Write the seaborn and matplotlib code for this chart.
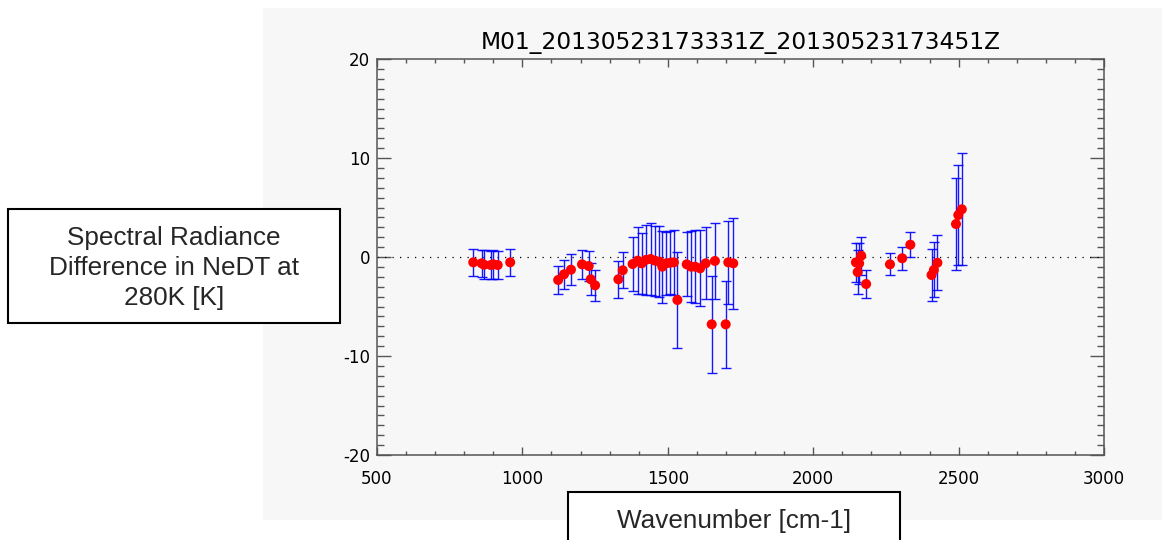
import matplotlib
matplotlib.use("Agg")
import matplotlib.pyplot as plt
import numpy as np
import pandas as pd
import seaborn as sns
from matplotlib.patches import Rectangle
from matplotlib.ticker import MultipleLocator

# Channel wavenumbers [cm-1], NeDT differences at 280 K [K] and their uncertainties
wavenumber = [831, 860, 868, 891, 900, 915, 958,
              1123, 1143, 1167, 1205, 1228, 1235, 1250, 1330, 1345,
              1379, 1396, 1410, 1424, 1441, 1456, 1471, 1481, 1494, 1508,
              1521, 1533, 1565, 1580, 1594, 1611, 1630, 1651, 1662, 1699,
              1708, 1725,
              2147, 2153, 2158, 2165, 2182,
              2264, 2306, 2334, 2407, 2415, 2427, 2491, 2499, 2511]
nedt_diff = [-0.54, -0.64, -0.78, -0.81, -0.74, -0.81, -0.54,
             -2.32, -1.75, -1.28, -0.74, -0.91, -2.25, -2.86, -2.25, -1.34,
             -0.71, -0.37, -0.64, -0.30, -0.20, -0.37, -0.47, -0.98, -0.64, -0.58,
             -0.54, -4.34, -0.74, -0.98, -0.98, -1.14, -0.64, -6.80, -0.40, -6.80,
             -0.54, -0.64,
             -0.54, -1.52, -0.64, 0.13, -2.73,
             -0.74, -0.13, 1.24, -1.82, -1.31, -0.58, 3.33, 4.24, 4.82]
nedt_err = [1.39, 1.39, 1.45, 1.45, 1.45, 1.41, 1.39,
            1.39, 1.48, 1.54, 1.46, 1.50, 1.62, 1.54, 1.88, 1.82,
            2.76, 3.41, 3.06, 3.55, 3.65, 3.54, 3.60, 3.62, 3.20, 3.20,
            3.25, 4.88, 3.23, 3.60, 3.70, 3.82, 3.64, 4.88, 3.84, 4.41,
            4.16, 4.60,
            1.95, 2.20, 2.10, 1.90, 1.43,
            1.11, 1.14, 1.29, 2.61, 2.78, 2.78, 4.68, 5.08, 5.64]

title_text = "M01_20130523173331Z_20130523173451Z"
ylabel_text = "Spectral Radiance\nDifference in NeDT at\n280K [K]"
xlabel_text = "Wavenumber [cm-1]"
xticks = [500, 1000, 1500, 2000, 2500, 3000]
yticks = [-20, -10, 0, 10, 20]

sns.set_style("ticks")
plt.rcParams["font.family"] = ["DejaVu Sans"]
plt.rcParams["axes.unicode_minus"] = False

W, H = 1162, 540
fig = plt.figure(figsize=(W / 100, H / 100), dpi=100)
fig.patch.set_facecolor("white")


def fig_rect(x0, y0, x1, y1):
    """Rectangle in figure fractions from pixel corners (top-left origin)."""
    return (x0 / W, 1 - y1 / H), (x1 - x0) / W, (y1 - y0) / H


# light grey panel behind the plot
xy, w, h = fig_rect(263, 8, 1162, 520)
fig.add_artist(Rectangle(xy, w, h, transform=fig.transFigure,
                         facecolor="#f7f7f7", edgecolor="none", zorder=0))

ax = fig.add_axes([377 / W, 1 - 455 / H, (1104 - 377) / W, (455 - 59) / H])
ax.set_facecolor("#f7f7f7")

df = pd.DataFrame({"wavenumber": wavenumber, "diff": nedt_diff, "err": nedt_err})

ax.axhline(0, color="black", lw=0.9, ls=(0, (1, 5)), zorder=1)
ax.errorbar(df["wavenumber"], df["diff"], yerr=df["err"], fmt="none",
            ecolor="#0000ff", elinewidth=1.0, capsize=3.6, capthick=1.0,
            alpha=0.9, zorder=2)
sns.scatterplot(data=df, x="wavenumber", y="diff", color="#ff0000", s=52,
                edgecolor="none", linewidth=0, zorder=3, legend=False, ax=ax)

ax.set_xlim(500, 3000)
ax.set_ylim(-20, 20)
ax.set_xticks(xticks)
ax.set_yticks(yticks)
ax.xaxis.set_minor_locator(MultipleLocator(100))
ax.yaxis.set_minor_locator(MultipleLocator(1))
ax.set_xlabel("")
ax.set_ylabel("")

axis_grey = "#555555"
for sp in ax.spines.values():
    sp.set_visible(True)
    sp.set_color(axis_grey)
    sp.set_linewidth(1.1)
ax.tick_params(which="both", direction="in", top=True, right=True,
               color=axis_grey, width=1.0, labelcolor="black", labelsize=12)
ax.tick_params(axis="x", which="major", length=5.8, pad=11)
ax.tick_params(axis="x", which="minor", length=2.9)
ax.tick_params(axis="y", which="major", length=10.4, pad=5)
ax.tick_params(axis="y", which="minor", length=5.2)

ax.set_title(title_text, fontsize=16.8, pad=7, color="black")

# boxed axis captions
xy, w, h = fig_rect(8, 209, 340, 323)
fig.add_artist(Rectangle(xy, w, h, transform=fig.transFigure,
                         facecolor="white", edgecolor="black", lw=1.5, zorder=5))
fig.text(174 / W, 1 - 268 / H, ylabel_text, ha="center", va="center",
         fontsize=18.8, family=["Liberation Sans", "DejaVu Sans"],
         linespacing=1.32, zorder=6)

xy, w, h = fig_rect(568, 492, 900, 548)
fig.add_artist(Rectangle(xy, w, h, transform=fig.transFigure,
                         facecolor="white", edgecolor="black", lw=1.5, zorder=5))
fig.text(734 / W, 1 - 521 / H, xlabel_text, ha="center", va="center",
         fontsize=18.8, family=["Liberation Sans", "DejaVu Sans"], zorder=6)

fig.savefig("out.png", dpi=100)
